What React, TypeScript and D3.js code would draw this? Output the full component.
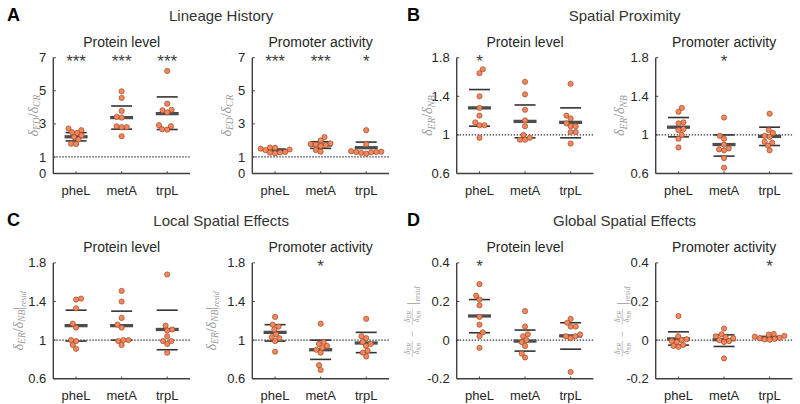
import React from 'react';
import * as d3 from 'd3';

// ---------- DATA ----------
const categories = ['pheL', 'metA', 'trpL'];
const lineageTicks = [0, 1, 3, 5, 7];
const ratioTicks = [0.6, 1, 1.4, 1.8];
const diffTicks = [-0.2, 0, 0.2, 0.4];

// A: Lineage History
const lineageProteinValues = [
  [2.72, 2.62, 2.5, 2.45, 2.3, 2.2, 2.05, 1.8, 1.78],
  [4.97, 4.57, 3.78, 3.42, 3.38, 2.85, 2.8, 2.8, 2.25],
  [6.2, 4.22, 3.85, 3.82, 3.7, 2.92, 2.86, 2.68, 2.65],
];
const lineageProteinStats = [[2.22, 1.97, 2.47], [3.38, 2.68, 4.08], [3.62, 2.66, 4.63]];
const lineageProteinStars = ['***', '***', '***'];

const lineagePromoterValues = [
  [1.57, 1.56, 1.5, 1.45, 1.41, 1.3, 1.27, 1.26, 1.22],
  [2.2, 2.0, 1.82, 1.78, 1.75, 1.72, 1.66, 1.42, 1.32],
  [2.62, 1.77, 1.35, 1.32, 1.3, 1.3, 1.28, 1.25, 1.2],
];
const lineagePromoterStats = [[1.41, 1.35, 1.47], [1.72, 1.52, 1.92], [1.56, 1.23, 1.9]];
const lineagePromoterStars = ['***', '***', '*'];

// B: Spatial Proximity
const proximityProteinValues = [
  [1.68, 1.64, 1.4, 1.28, 1.2, 1.13, 1.1, 1.1, 0.97],
  [1.55, 1.42, 1.26, 1.15, 1.09, 1.0, 0.97, 0.95, 0.95],
  [1.53, 1.2, 1.17, 1.12, 1.09, 1.09, 1.03, 1.03, 0.91],
];
const proximityProteinStats = [[1.28, 1.09, 1.47], [1.14, 0.97, 1.31], [1.13, 0.97, 1.28]];
const proximityProteinStars = ['*', '', ''];

const proximityPromoterValues = [
  [1.28, 1.24, 1.13, 1.12, 1.06, 1.05, 1.0, 0.96, 0.87],
  [1.18, 0.99, 0.96, 0.9, 0.86, 0.85, 0.84, 0.76, 0.66],
  [1.22, 1.05, 1.02, 0.99, 0.98, 0.93, 0.92, 0.89, 0.84],
];
const proximityPromoterStats = [[1.08, 0.98, 1.18], [0.9, 0.78, 1.0], [0.985, 0.89, 1.08]];
const proximityPromoterStars = ['', '*', ''];

// C: Local Spatial Effects
const localProteinValues = [
  [1.43, 1.42, 1.33, 1.17, 1.13, 1.0, 0.99, 0.95, 0.91],
  [1.51, 1.4, 1.23, 1.16, 1.13, 1.0, 1.0, 0.99, 0.95],
  [1.68, 1.15, 1.11, 1.1, 1.04, 0.99, 0.99, 0.96, 0.87],
];
const localProteinStats = [[1.15, 0.99, 1.31], [1.15, 1.0, 1.3], [1.11, 0.9, 1.31]];
const localProteinStars = ['', '', ''];

const localPromoterValues = [
  [1.24, 1.16, 1.14, 1.11, 1.06, 1.03, 1.02, 0.99, 0.88],
  [1.17, 0.98, 0.96, 0.94, 0.92, 0.9, 0.87, 0.74, 0.69],
  [1.22, 1.04, 1.02, 0.98, 0.96, 0.94, 0.89, 0.87, 0.83],
];
const localPromoterStats = [[1.08, 0.99, 1.16], [0.9, 0.8, 1.0], [0.97, 0.87, 1.08]];
const localPromoterStars = ['', '*', ''];

// D: Global Spatial Effects
const globalProteinValues = [
  [0.29, 0.23, 0.21, 0.18, 0.12, 0.08, 0.04, 0.02, -0.04],
  [0.15, 0.07, 0.03, 0.02, 0.0, -0.01, -0.03, -0.07, -0.09],
  [0.11, 0.09, 0.07, 0.07, 0.03, 0.02, 0.02, 0.01, -0.165],
];
const globalProteinStats = [[0.125, 0.038, 0.21], [-0.005, -0.057, 0.052], [0.022, -0.047, 0.09]];
const globalProteinStars = ['*', '', ''];

const globalPromoterValues = [
  [0.125, 0.02, 0.005, 0.0, -0.005, -0.01, -0.025, -0.03, -0.035],
  [0.06, 0.03, 0.02, 0.015, 0.01, 0.0, -0.005, -0.01, -0.095],
  [0.032, 0.028, 0.022, 0.018, 0.012, 0.01, 0.006, 0.003, 0.002],
];
const globalPromoterStats = [[0.006, -0.026, 0.043], [0.002, -0.033, 0.027], [0.013, 0.008, 0.019]];
const globalPromoterStars = ['', '', '*'];

const sectionTitles = ['Lineage History', 'Spatial Proximity', 'Local Spatial Effects', 'Global Spatial Effects'];
const sectionLetters = ['A', 'B', 'C', 'D'];
const subTitles = ['Protein level', 'Promoter activity'];

// ---------- LAYOUT ----------
const colX = [53.3, 252.3, 456.7, 655.7];
const rowTop = [57.7, 262.9];
const PW = 136.7;
const PH = 115.8;
const R = 2.6;

const SANS = 'Liberation Sans, Arial, Helvetica, sans-serif';
const SERIF = 'Liberation Serif, Times New Roman, serif';
const TXT = '#262626';
const LABEL = '#9a9a9a';
const POINT_FILL = '#F4875E';
const POINT_STROKE = '#9c4a26';

function swarm(ys: number[], diam: number): number[] {
  const order = ys.map((_, i) => i).sort((a, b) => ys[b] - ys[a]);
  const placed: { x: number; y: number }[] = [];
  const xs = new Array(ys.length).fill(0);
  let flip = 1;
  for (const i of order) {
    const y = ys[i];
    const cands = [0];
    for (const p of placed) {
      const dy = Math.abs(p.y - y);
      if (dy < diam) {
        const dx = Math.sqrt(diam * diam - dy * dy);
        cands.push(p.x + dx, p.x - dx);
      }
    }
    const ok = cands.filter((c) => placed.every((p) => (p.x - c) ** 2 + (p.y - y) ** 2 >= diam * diam - 1e-3));
    ok.sort((a, b) => Math.abs(a) - Math.abs(b) || flip * (b - a));
    flip = -flip;
    xs[i] = ok[0];
    placed.push({ x: ok[0], y });
  }
  return xs;
}

type LabelKind = 'ED' | 'ER' | 'resid' | 'diff';

function YLabel({ x, y, kind }: { x: number; y: number; kind: LabelKind }) {
  const t = `translate(${x},${y}) rotate(-90)`;
  if (kind === 'diff') {
    const frac = (cx: number) => (
      <g>
        <text x={cx} y={-1.8} textAnchor="middle" fontSize={8.5} fontFamily={SERIF} fontStyle="italic" fill={LABEL}>
          δ<tspan fontSize={6} dy={1.5}>ER</tspan>
        </text>
        <line x1={cx - 8} x2={cx + 8} y1={0.6} y2={0.6} stroke={LABEL} strokeWidth={0.5} />
        <text x={cx} y={7.6} textAnchor="middle" fontSize={8.5} fontFamily={SERIF} fontStyle="italic" fill={LABEL}>
          δ<tspan fontSize={6} dy={1.5}>NB</tspan>
        </text>
      </g>
    );
    return (
      <g transform={t}>
        {frac(-28)}
        <text x={-13} y={4.2} textAnchor="middle" fontSize={12} fontFamily={SERIF} fill={LABEL}>−</text>
        {frac(4)}
        <text x={17.5} y={5} textAnchor="middle" fontSize={14} fontFamily={SERIF} fill={LABEL}>|</text>
        <text x={19.5} y={8} textAnchor="start" fontSize={7.5} fontFamily={SERIF} fontStyle="italic" fill={LABEL}>resid</text>
      </g>
    );
  }
  const [a, b] = kind === 'ED' ? ['ED', 'CR'] : ['ER', 'NB'];
  return (
    <text transform={t} textAnchor="middle" fontSize={14} fontFamily={SERIF} fontStyle="italic" fill={LABEL} dy={1.5}>
      δ<tspan fontSize={9.5} dy={2.5}>{a}</tspan>
      <tspan dy={-2.5} fontStyle="normal">/</tspan>δ<tspan fontSize={9.5} dy={2.5}>{b}</tspan>
      {kind === 'resid' ? (
        <>
          <tspan dy={-2.5} fontStyle="normal">|</tspan>
          <tspan fontSize={8} dy={3}>resid</tspan>
        </>
      ) : null}
    </text>
  );
}

interface PanelProps {
  col: number;
  row: number;
  values: number[][];
  stats: number[][];
  stars: string[];
  domain: [number, number];
  ticks: number[];
  refValue: number;
  title: string;
  label: LabelKind;
  labelDx: number;
}

function Panel(p: PanelProps) {
  const left = colX[p.col];
  const top = rowTop[p.row];
  const bottom = top + PH;
  const x = d3.scaleLinear().domain([0.5, 3.5]).range([left, left + PW]);
  const y = d3.scaleLinear().domain(p.domain).range([bottom, top]);
  const cx = (i: number) => x(i + 1);
  const dash = '1.4,1.6';
  return (
    <g>
      <text x={left + PW / 2} y={top - 11} textAnchor="middle" fontSize={14} fontFamily={SANS} fill={TXT}>
        {p.title}
      </text>
      <line x1={left} x2={left + PW} y1={y(p.refValue)} y2={y(p.refValue)} stroke="#333" strokeWidth={1.2} strokeDasharray={dash} />
      {p.stats.map((s, i) => (
        <g key={'s' + i}>
          <line x1={cx(i) - 10.5} x2={cx(i) + 10.5} y1={y(s[1])} y2={y(s[1])} stroke="#333" strokeWidth={1.6} />
          <line x1={cx(i) - 10.5} x2={cx(i) + 10.5} y1={y(s[2])} y2={y(s[2])} stroke="#333" strokeWidth={1.6} />
          <line x1={cx(i) - 11.5} x2={cx(i) + 11.5} y1={y(s[0])} y2={y(s[0])} stroke="#4d4d4d" strokeWidth={3.3} />
        </g>
      ))}
      {p.values.map((vals, i) => {
        const ys = vals.map((v) => y(v));
        const offs = swarm(ys, 2 * R * 0.98);
        return vals.map((v, j) => (
          <circle key={`p${i}-${j}`} cx={cx(i) + offs[j]} cy={ys[j]} r={R} fill={POINT_FILL} stroke={POINT_STROKE} strokeWidth={0.7} />
        ));
      })}
      {p.stars.map((s, i) => (
        <text key={'st' + i} x={cx(i)} y={top + 9.5} textAnchor="middle" fontSize={17} fontFamily={SANS} fill="#404040">
          {s}
        </text>
      ))}
      <line x1={left} x2={left} y1={top} y2={bottom} stroke="#404040" strokeWidth={1.4} />
      <line x1={left} x2={left + PW} y1={bottom} y2={bottom} stroke="#404040" strokeWidth={1.4} />
      {p.ticks.map((t) => (
        <g key={'yt' + t}>
          <line x1={left} x2={left + 2.5} y1={y(t)} y2={y(t)} stroke="#404040" strokeWidth={1} />
          <text x={left - 7} y={y(t)} dy="0.35em" textAnchor="end" fontSize={13} fontFamily={SANS} fill={TXT}>
            {String(t)}
          </text>
        </g>
      ))}
      {categories.map((c, i) => (
        <g key={'xt' + c}>
          <line x1={cx(i)} x2={cx(i)} y1={bottom} y2={bottom - 2.2} stroke="#404040" strokeWidth={1} />
          <text x={cx(i)} y={bottom + 21} textAnchor="middle" fontSize={13} fontFamily={SANS} fill={TXT}>
            {c}
          </text>
        </g>
      ))}
      <YLabel x={left + p.labelDx} y={(top + bottom) / 2} kind={p.label} />
    </g>
  );
}

export default function App() {
  const panels: PanelProps[] = [
    { col: 0, row: 0, values: lineageProteinValues, stats: lineageProteinStats, stars: lineageProteinStars, domain: [0, 7], ticks: lineageTicks, refValue: 1, title: subTitles[0], label: 'ED', labelDx: -17 },
    { col: 1, row: 0, values: lineagePromoterValues, stats: lineagePromoterStats, stars: lineagePromoterStars, domain: [0, 7], ticks: lineageTicks, refValue: 1, title: subTitles[1], label: 'ED', labelDx: -23 },
    { col: 2, row: 0, values: proximityProteinValues, stats: proximityProteinStats, stars: proximityProteinStars, domain: [0.6, 1.8], ticks: ratioTicks, refValue: 1, title: subTitles[0], label: 'ER', labelDx: -26 },
    { col: 3, row: 0, values: proximityPromoterValues, stats: proximityPromoterStats, stars: proximityPromoterStars, domain: [0.6, 1.8], ticks: ratioTicks, refValue: 1, title: subTitles[1], label: 'ER', labelDx: -33 },
    { col: 0, row: 1, values: localProteinValues, stats: localProteinStats, stars: localProteinStars, domain: [0.6, 1.8], ticks: ratioTicks, refValue: 1, title: subTitles[0], label: 'resid', labelDx: -32 },
    { col: 1, row: 1, values: localPromoterValues, stats: localPromoterStats, stars: localPromoterStars, domain: [0.6, 1.8], ticks: ratioTicks, refValue: 1, title: subTitles[1], label: 'resid', labelDx: -38 },
    { col: 2, row: 1, values: globalProteinValues, stats: globalProteinStats, stars: globalProteinStars, domain: [-0.2, 0.4], ticks: diffTicks, refValue: 0, title: subTitles[0], label: 'diff', labelDx: -45 },
    { col: 3, row: 1, values: globalPromoterValues, stats: globalPromoterStats, stars: globalPromoterStars, domain: [-0.2, 0.4], ticks: diffTicks, refValue: 0, title: subTitles[1], label: 'diff', labelDx: -34 },
  ];
  return (
    <svg width={800} height={404} style={{ position: 'absolute', left: 0, top: 0, background: '#fff' }}>
      <rect width={800} height={404} fill="#fff" />
      {sectionTitles.map((t, k) => {
        const c = (k % 2) * 2;
        const r = Math.floor(k / 2);
        const cxm = (colX[c] + colX[c + 1] + PW) / 2;
        return (
          <g key={t}>
            <text x={c === 0 ? 7 : 407} y={rowTop[r] - 37} fontSize={18} fontWeight="bold" fontFamily={SANS} fill="#000">
              {sectionLetters[k]}
            </text>
            <text x={cxm} y={rowTop[r] - 37} textAnchor="middle" fontSize={15} fontFamily={SANS} fill="#333">
              {t}
            </text>
          </g>
        );
      })}
      {panels.map((p, i) => (
        <Panel key={i} {...p} />
      ))}
    </svg>
  );
}
